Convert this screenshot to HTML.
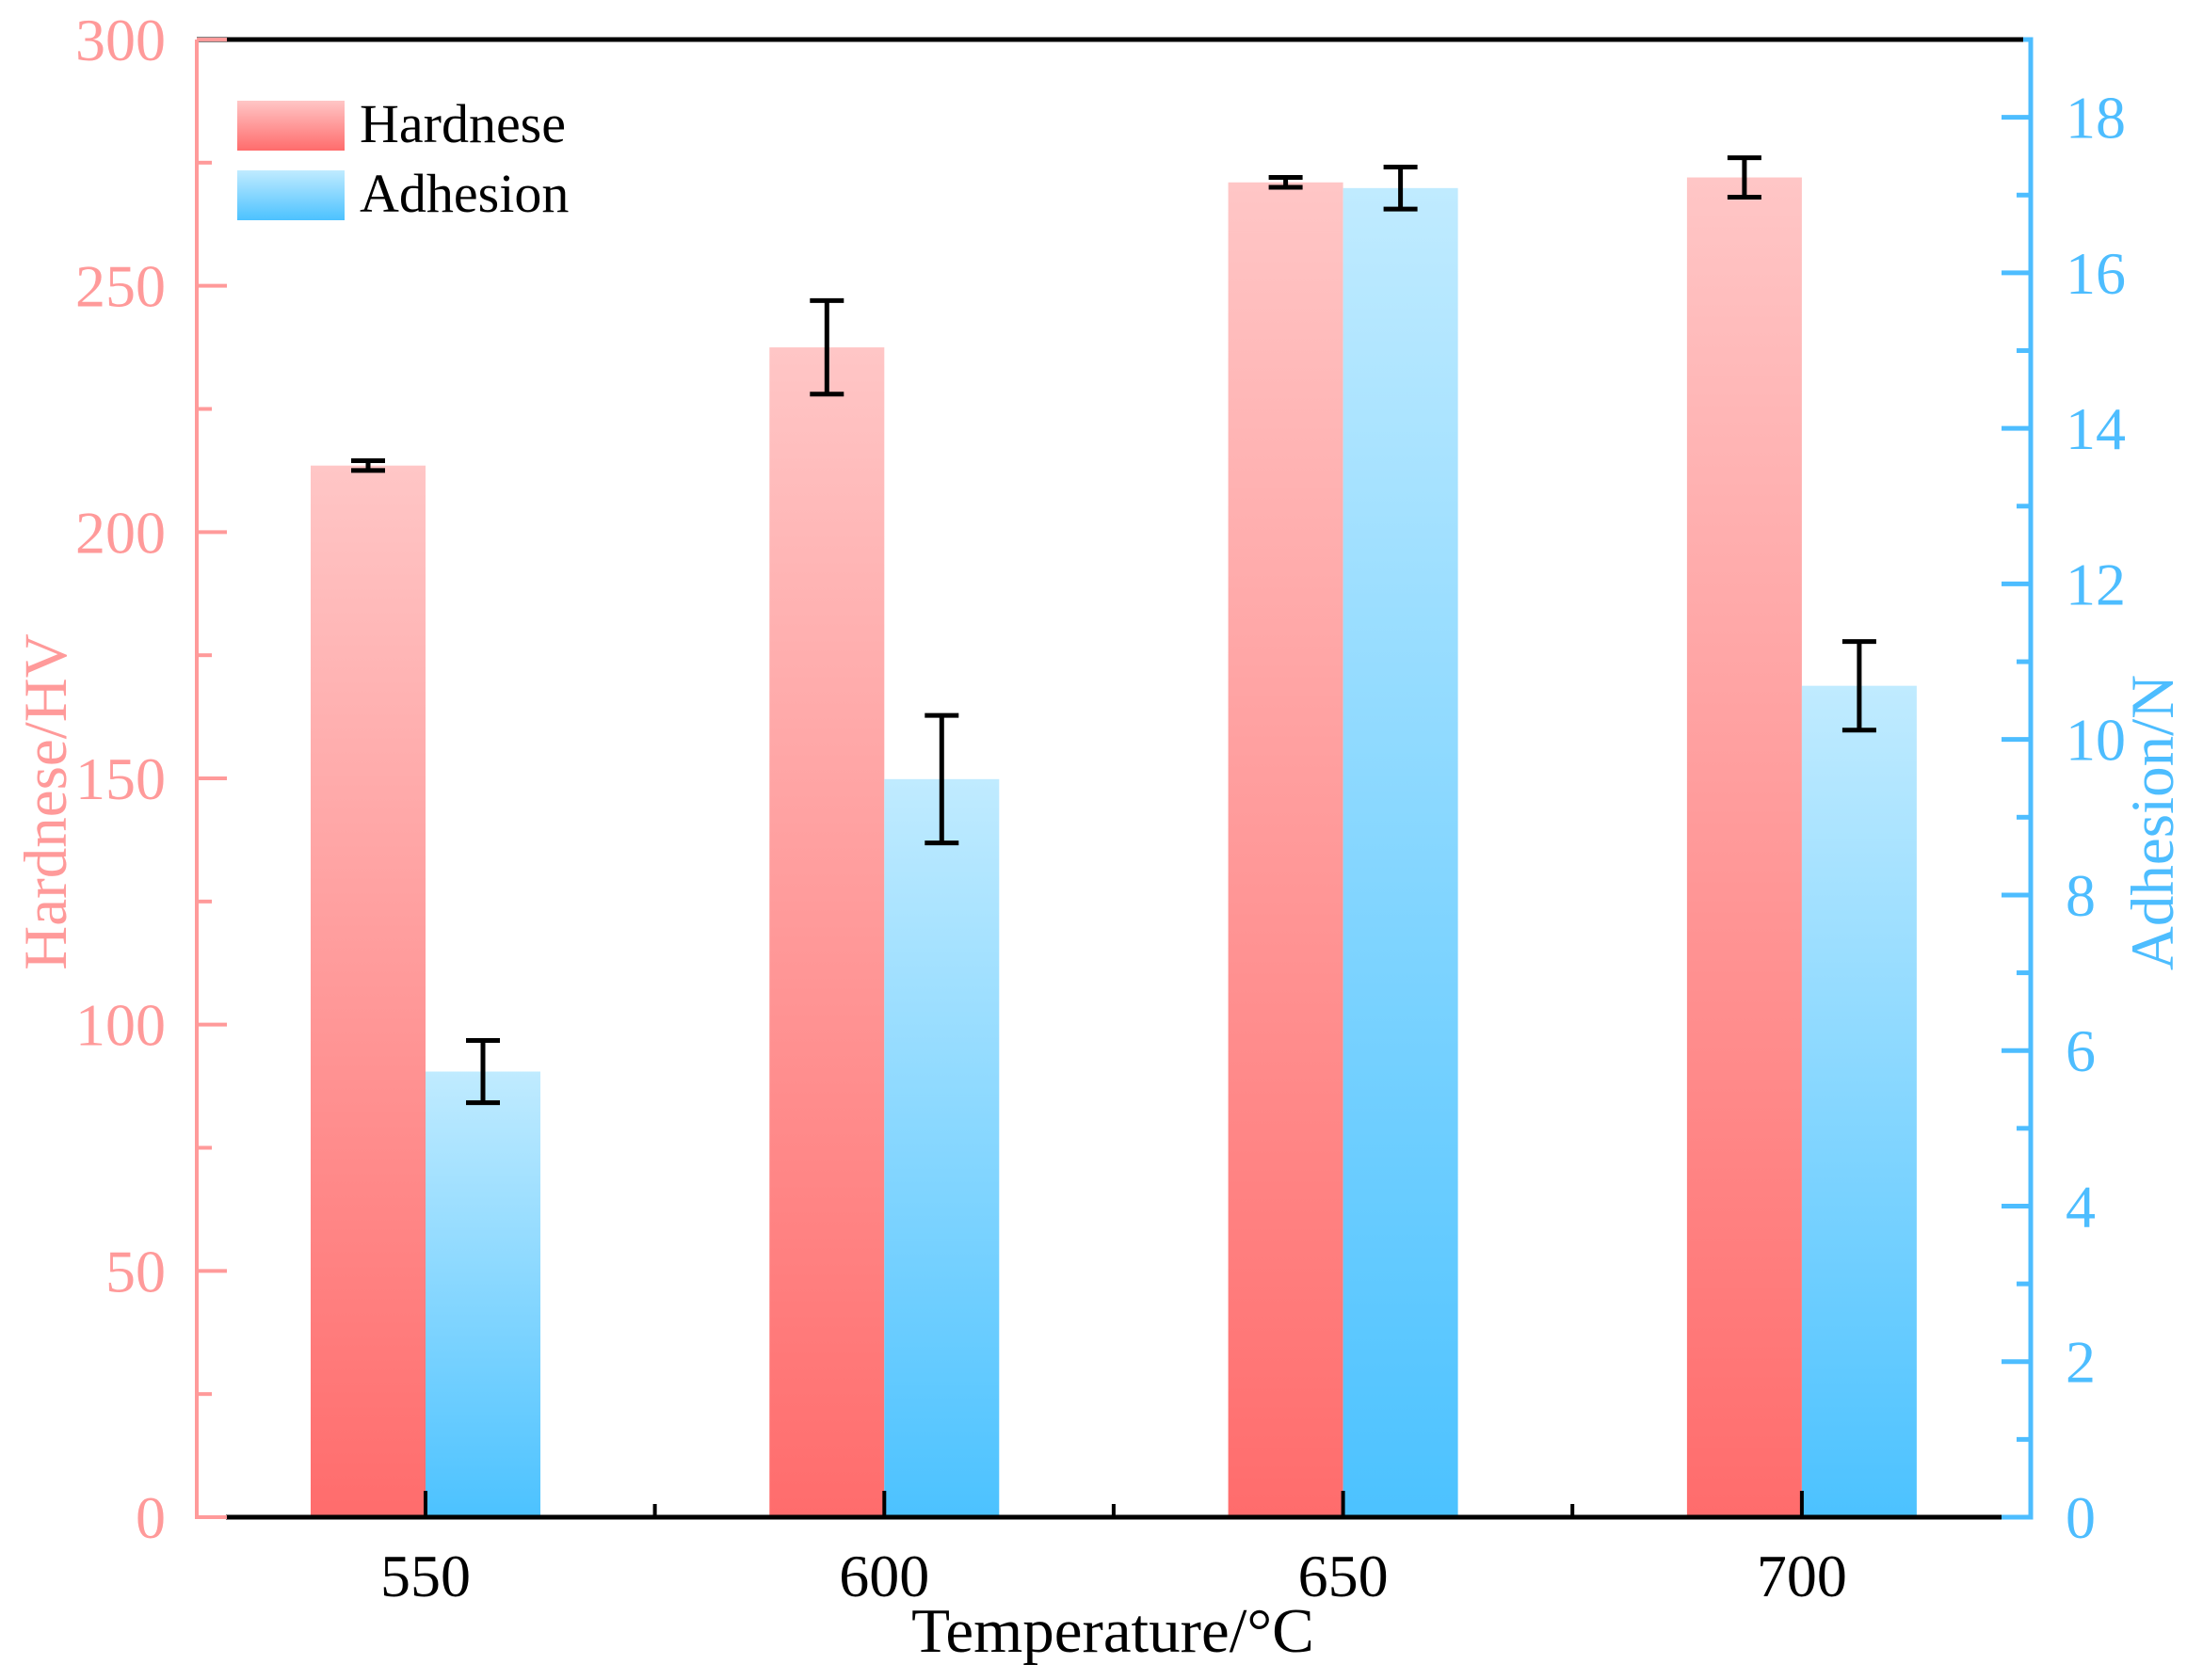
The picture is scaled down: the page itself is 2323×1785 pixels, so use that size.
<!DOCTYPE html>
<html><head><meta charset="utf-8"><style>
html,body{margin:0;padding:0;background:#fff;}
svg{display:block;font-family:"Liberation Serif",serif;}
</style></head><body>
<svg id="chart" width="2323" height="1785" viewBox="0 0 2323 1785" xmlns="http://www.w3.org/2000/svg">
<defs>
<linearGradient id="gRed" x1="0" y1="0" x2="0" y2="1"><stop offset="0" stop-color="#ffc6c6"/><stop offset="1" stop-color="#ff6c6c"/></linearGradient>
<linearGradient id="gBlue" x1="0" y1="0" x2="0" y2="1"><stop offset="0" stop-color="#c0ebff"/><stop offset="1" stop-color="#4cc2ff"/></linearGradient>
</defs>
<g id="bars"></g>
<g id="axes"></g>
<g>
<rect x="252" y="107" width="114" height="53" fill="url(#gRed)"/>
<text x="382" y="151" font-size="58" fill="#000">Hardnese</text>
<rect x="252" y="181" width="114" height="53" fill="url(#gBlue)"/>
<text x="382" y="225" font-size="58" fill="#000">Adhesion</text>
</g>
<text x="1182" y="1755" font-size="67" text-anchor="middle" fill="#000">Temperature/°C</text>
<text transform="translate(70,852) rotate(-90)" font-size="65" text-anchor="middle" fill="#ff9a9a">Hardnese/HV</text>
<text transform="translate(2308,874) rotate(-90)" font-size="65" text-anchor="middle" fill="#4dbdff">Adhesion/N</text>
</svg>
<script>
const categories = ["550","600","650","700"];
const hardness = [213.5, 237.5, 271, 272];
const hardnessErr = [1, 9.5, 1, 4];
const adhesion = [5.73, 9.49, 17.09, 10.69];
const adhesionErr = [0.4, 0.82, 0.27, 0.57];
const leftTicks = [0,50,100,150,200,250,300];
const rightTicks = [0,2,4,6,8,10,12,14,16,18];

const NS="http://www.w3.org/2000/svg";
const yBase=1612, yTop=42, xL=209, xR=2157;
const yL=v=>yBase-(v/300)*(yBase-yTop);
const yR=v=>yBase-(v/19)*(yBase-yTop);
const xC=i=>452+i*487.3;
const bw=122;
function mk(tag,attrs,parent){const e=document.createElementNS(NS,tag);for(const k in attrs)e.setAttribute(k,attrs[k]);parent.appendChild(e);return e;}
const barsG=document.getElementById('bars'), axesG=document.getElementById('axes');

function errBar(x,yHi,yLo,name){
  const g=mk('g',{stroke:'#000','stroke-width':5,fill:'none'},barsG);
  
  
  mk('line',{x1:x,x2:x,y1:yHi,y2:yLo},g);
  mk('line',{x1:x-18,x2:x+18,y1:yHi,y2:yHi},g);
  mk('line',{x1:x-18,x2:x+18,y1:yLo,y2:yLo},g);
}
categories.forEach((c,i)=>{
  const x=xC(i);
  const r=mk('rect',{x:x-bw,y:yL(hardness[i]),width:bw,height:yBase-yL(hardness[i]),fill:'url(#gRed)'},barsG);
  
  
  const b=mk('rect',{x:x,y:yR(adhesion[i]),width:bw,height:yBase-yR(adhesion[i]),fill:'url(#gBlue)'},barsG);
  
  
  errBar(x-bw/2,yL(hardness[i]+hardnessErr[i]),yL(hardness[i]-hardnessErr[i]),'error-bar-hardnese-'+c);
  errBar(x+bw/2,yR(adhesion[i]+adhesionErr[i]),yR(adhesion[i]-adhesionErr[i]),'error-bar-adhesion-'+c);
  const t=mk('text',{x:x,y:1696,'font-size':64,'text-anchor':'middle',fill:'#000'},axesG);
  t.textContent=c;
  
  
  mk('line',{x1:x,x2:x,y1:yBase,y2:yBase-28,stroke:'#000','stroke-width':4},axesG);
  if(i<categories.length-1) mk('line',{x1:x+243.6,x2:x+243.6,y1:yBase,y2:yBase-14,stroke:'#000','stroke-width':4},axesG);
});
const topFrame=mk('line',{x1:xL,x2:xR-4,y1:yTop,y2:yTop,stroke:'#000','stroke-width':5},axesG);


const xa=mk('line',{x1:240,x2:2130,y1:yBase,y2:yBase,stroke:'#000','stroke-width':5},axesG);


const la=mk('path',{d:`M${xL},${yTop} L${xL},${yBase} L240,${yBase}`,stroke:'#ff9a9a','stroke-width':4,fill:'none'},axesG);


const ra=mk('path',{d:`M${xR-8},${yTop} L${xR},${yTop} L${xR},${yBase} L2130,${yBase}`,stroke:'#4dbdff','stroke-width':5,fill:'none'},axesG);


leftTicks.forEach((v,i)=>{
  mk('line',{x1:xL,x2:xL+32,y1:yL(v),y2:yL(v),stroke:'#ff9a9a','stroke-width':4},axesG);
  if(i<leftTicks.length-1){const m=(v+leftTicks[i+1])/2;mk('line',{x1:xL,x2:xL+16,y1:yL(m),y2:yL(m),stroke:'#ff9a9a','stroke-width':4},axesG);}
  const t=mk('text',{x:176,y:yL(v)+22,'font-size':64,'text-anchor':'end',fill:'#ff9a9a'},axesG);
  t.textContent=v;
  
  
});
rightTicks.forEach((v,i)=>{
  mk('line',{x1:xR,x2:xR-31,y1:yR(v),y2:yR(v),stroke:'#4dbdff','stroke-width':5},axesG);
  const m=v+1; if(m<19) mk('line',{x1:xR,x2:xR-15,y1:yR(m),y2:yR(m),stroke:'#4dbdff','stroke-width':5},axesG);
  const t=mk('text',{x:2194,y:yR(v)+22,'font-size':64,fill:'#4dbdff'},axesG);
  t.textContent=v;
  
  
});
</script>
</body></html>
